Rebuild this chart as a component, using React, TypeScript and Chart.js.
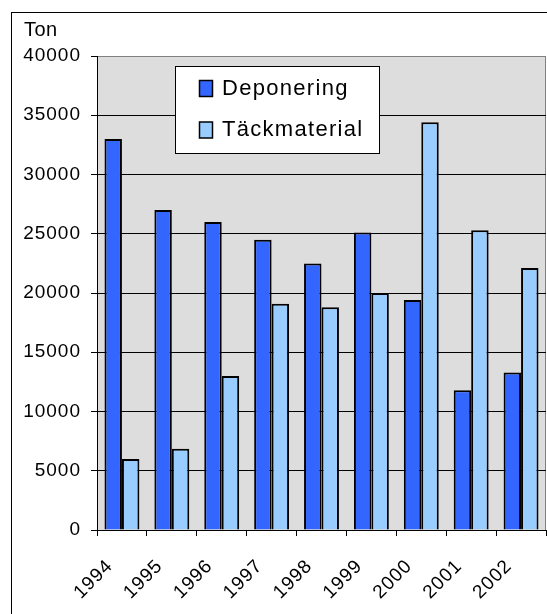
import React, { useEffect, useRef } from 'react';
import { Chart, registerables } from 'chart.js';

Chart.register(...registerables);

const years = ['1994', '1995', '1996', '1997', '1998', '1999', '2000', '2001', '2002'];
const deponering = [33000, 27000, 26000, 24500, 22500, 25100, 19400, 11800, 13300];
const tackmaterial = [6000, 6850, 13000, 19100, 18800, 20000, 34400, 25300, 22100];
const seriesNames = ['Deponering', 'Täckmaterial'];
const yMin = 0;
const yMax = 40000;
const yStep = 5000;
const unitLabel = 'Ton';

const FONT = '"Liberation Sans", Arial, sans-serif';

const decor = {
  id: 'decor',
  beforeLayout(chart: any) {
    chart.ctx.letterSpacing = '1px';
  },
  beforeDraw(chart: any) {
    const { ctx, chartArea: a, width, height } = chart;
    ctx.save();
    ctx.fillStyle = '#ffffff';
    ctx.fillRect(0, 0, width, height);
    ctx.strokeStyle = '#000000';
    ctx.lineWidth = 1;
    ctx.strokeRect(11.5, 12.5, width + 50, height + 50);
    ctx.fillStyle = '#dddddd';
    ctx.fillRect(a.left, a.top, a.right - a.left, a.bottom - a.top);
    ctx.strokeStyle = '#808080';
    ctx.beginPath();
    ctx.moveTo(a.left, a.top + 0.5);
    ctx.lineTo(a.right - 0.5, a.top + 0.5);
    ctx.lineTo(a.right - 0.5, a.bottom);
    ctx.stroke();
    ctx.fillStyle = '#000000';
    ctx.font = `20px ${FONT}`;
    ctx.letterSpacing = '0.5px';
    ctx.textAlign = 'left';
    ctx.textBaseline = 'alphabetic';
    ctx.fillText(unitLabel, 24, 36);
    ctx.restore();
    ctx.letterSpacing = '1px';
  },
  afterDatasetsDraw(chart: any) {
    const { ctx } = chart;
    ctx.save();
    const lx = 175.5, ly = 66.5, lw = 204, lh = 87;
    ctx.fillStyle = '#ffffff';
    ctx.fillRect(lx, ly, lw, lh);
    ctx.strokeStyle = '#000000';
    ctx.lineWidth = 1;
    ctx.strokeRect(lx, ly, lw, lh);
    ctx.font = `22px ${FONT}`;
    ctx.letterSpacing = '1.3px';
    ctx.textAlign = 'left';
    ctx.textBaseline = 'alphabetic';
    chart.data.datasets.forEach((ds: any, i: number) => {
      const ry = 80.5 + i * 41.5;
      ctx.fillStyle = ds.backgroundColor;
      ctx.fillRect(199.5, ry, 13, 16);
      ctx.strokeStyle = '#000000';
      ctx.lineWidth = 1.5;
      ctx.strokeRect(199.5, ry, 13, 16);
      ctx.fillStyle = '#000000';
      ctx.fillText(ds.label, 222, ry + 14);
    });
    ctx.restore();
  },
};

export default function App() {
  const ref = useRef<HTMLCanvasElement | null>(null);
  useEffect(() => {
    if (!ref.current) return;
    const chart = new Chart(ref.current, {
      type: 'bar',
      data: {
        labels: years,
        datasets: [
          {
            label: seriesNames[0],
            data: deponering,
            backgroundColor: '#3366ff',
            borderColor: '#000000',
            borderWidth: 2,
            categoryPercentage: 0.7,
            barPercentage: 1.0,
          },
          {
            label: seriesNames[1],
            data: tackmaterial,
            backgroundColor: '#99ccff',
            borderColor: '#000000',
            borderWidth: 2,
            categoryPercentage: 0.7,
            barPercentage: 1.0,
          },
        ],
      },
      options: {
        responsive: false,
        animation: false,
        devicePixelRatio: 1,
        layout: { padding: { left: 0, right: 1, top: 56, bottom: 0 } },
        plugins: {
          legend: { display: false },
          tooltip: { enabled: false },
          title: { display: false },
        },
        scales: {
          x: {
            grid: {
              display: true,
              drawOnChartArea: false,
              drawTicks: true,
              tickLength: 6,
              color: '#000000',
              offset: true,
            },
            border: { display: true, color: '#000000', width: 1 },
            ticks: {
              autoSkip: false,
              minRotation: 45,
              maxRotation: 45,
              color: '#000000',
              font: { family: FONT, size: 19 },
              padding: 19,
              labelOffset: -12,
            },
            afterFit(scale: any) {
              scale.height = 84;
              scale.paddingLeft = 0;
              scale.paddingRight = 0;
            },
          },
          y: {
            min: yMin,
            max: yMax,
            grid: {
              color: (c: any) => (c.tick && c.tick.value === yMax ? '#808080' : '#000000'),
              tickColor: '#000000',
              lineWidth: 1,
              tickLength: 6,
            },
            border: { display: true, color: '#000000', width: 1 },
            ticks: {
              stepSize: yStep,
              color: '#000000',
              font: { family: FONT, size: 19 },
              padding: 10,
              callback: (v: any) => String(v),
            },
            afterFit(scale: any) {
              scale.width = 97;
              scale.paddingTop = 0;
              scale.paddingBottom = 0;
            },
          },
        },
      },
      plugins: [decor],
    });
    return () => chart.destroy();
  }, []);
  return (
    <div style={{ position: 'fixed', left: 0, top: 0, width: 547, height: 614 }}>
      <canvas ref={ref} width={547} height={614} />
    </div>
  );
}
